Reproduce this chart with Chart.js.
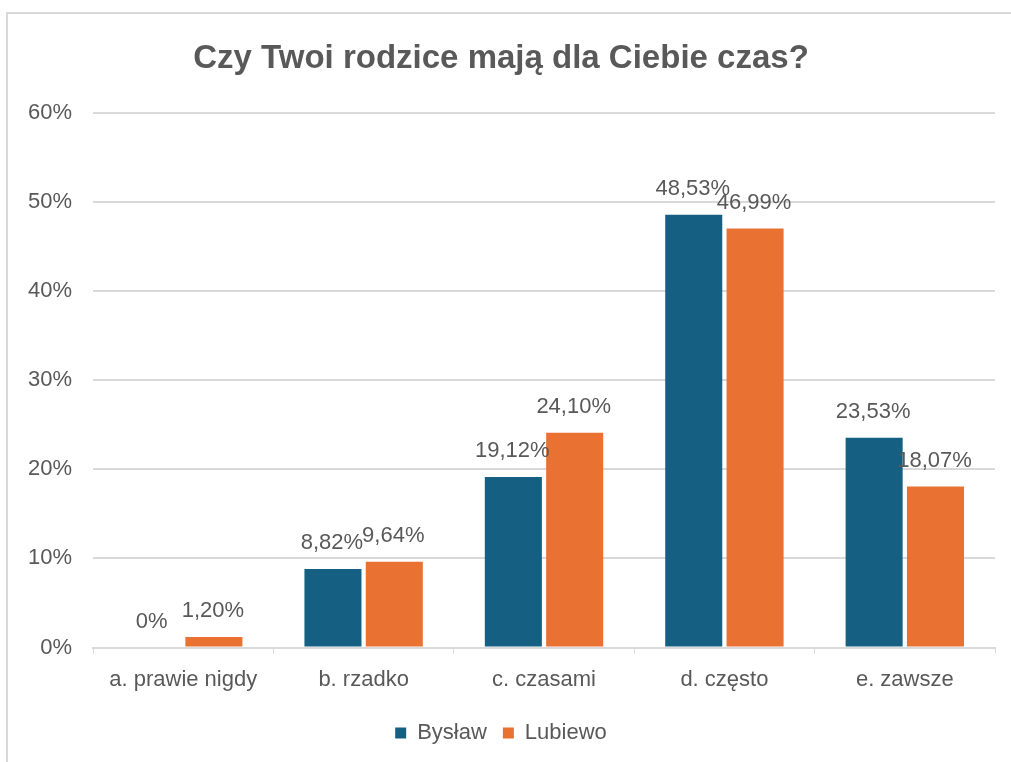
<!DOCTYPE html>
<html>
<head>
<meta charset="utf-8">
<script src="https://cdn.jsdelivr.net/npm/chart.js@4"></script>
<style>
  html, body { margin: 0; padding: 0; background: #fff; }
  #frame {
    position: absolute; left: 6px; top: 12px; width: 1100px; height: 800px;
    border-left: 2px solid #d9d9d9; border-top: 2px solid #d9d9d9;
  }
  #wrap { position: absolute; left: 0; top: 0; width: 1011px; height: 762px; }
</style>
</head>
<body>
<div id="frame"></div>
<div id="wrap"><canvas id="barChart"></canvas></div>
<script>
// chart data
const categories = ["a. prawie nigdy", "b. rzadko", "c. czasami", "d. często", "e. zawsze"];
const bystaw = [0, 8.82, 19.12, 48.53, 23.53];
const lubiewo = [1.20, 9.64, 24.10, 46.99, 18.07];
const yTicks = [0, 10, 20, 30, 40, 50, 60];

const textColor = "#595959";
const fontFamily = "'Liberation Sans', Arial, sans-serif";

function fmt(v) {
  if (v === 0) return "0%";
  return v.toFixed(2).replace(".", ",") + "%";
}

// draws the value above each bar
const valueLabels = {
  id: "valueLabels",
  afterDatasetsDraw(chart) {
    const c = chart.ctx;
    c.save();
    c.font = "22px " + fontFamily;
    c.fillStyle = textColor;
    c.textAlign = "center";
    c.textBaseline = "middle";
    chart.data.datasets.forEach((ds, i) => {
      chart.getDatasetMeta(i).data.forEach((bar, j) => {
        c.fillText(fmt(ds.data[j]), bar.x - 1, bar.y - 26);
      });
    });
    c.restore();
  }
};

const ctx = document.getElementById("barChart").getContext("2d");
const barChart = new Chart(ctx, {
  type: "bar",
  data: {
    labels: categories,
    datasets: [
      { label: "Bysław", data: bystaw, backgroundColor: "#156082", borderWidth: 0 },
      { label: "Lubiewo", data: lubiewo, backgroundColor: "#E97132", borderWidth: 0 }
    ]
  },
  options: {
    responsive: true,
    maintainAspectRatio: false,
    animation: false,
    layout: { padding: { left: 7, right: 16, top: 32, bottom: 8 } },
    datasets: { bar: { barPercentage: 0.93, categoryPercentage: 0.68 } },
    plugins: {
      title: {
        display: true,
        text: "Czy Twoi rodzice mają dla Ciebie czas?",
        color: textColor,
        font: { family: fontFamily, size: 33, weight: "bold" },
        padding: { top: 7, bottom: 34 }
      },
      legend: {
        position: "bottom",
        labels: {
          color: textColor,
          font: { family: fontFamily, size: 22 },
          boxWidth: 11, boxHeight: 11, padding: 16
        }
      },
      tooltip: { enabled: false }
    },
    scales: {
      x: {
        grid: { display: true, drawOnChartArea: false, drawTicks: true, tickLength: 6, color: "#d9d9d9", offset: true },
        border: { color: "#d9d9d9", width: 2 },
        ticks: { color: textColor, font: { family: fontFamily, size: 22 }, padding: 13 }
      },
      y: {
        min: 0, max: 60,
        afterBuildTicks: (axis) => { axis.ticks = yTicks.map(v => ({ value: v })); },
        grid: { color: "#d9d9d9", lineWidth: 2, drawTicks: false },
        border: { display: false },
        ticks: {
          color: textColor, font: { family: fontFamily, size: 22 }, padding: 21,
          callback: (v) => v + "%"
        }
      }
    }
  },
  plugins: [valueLabels]
});
</script>
</body>
</html>
